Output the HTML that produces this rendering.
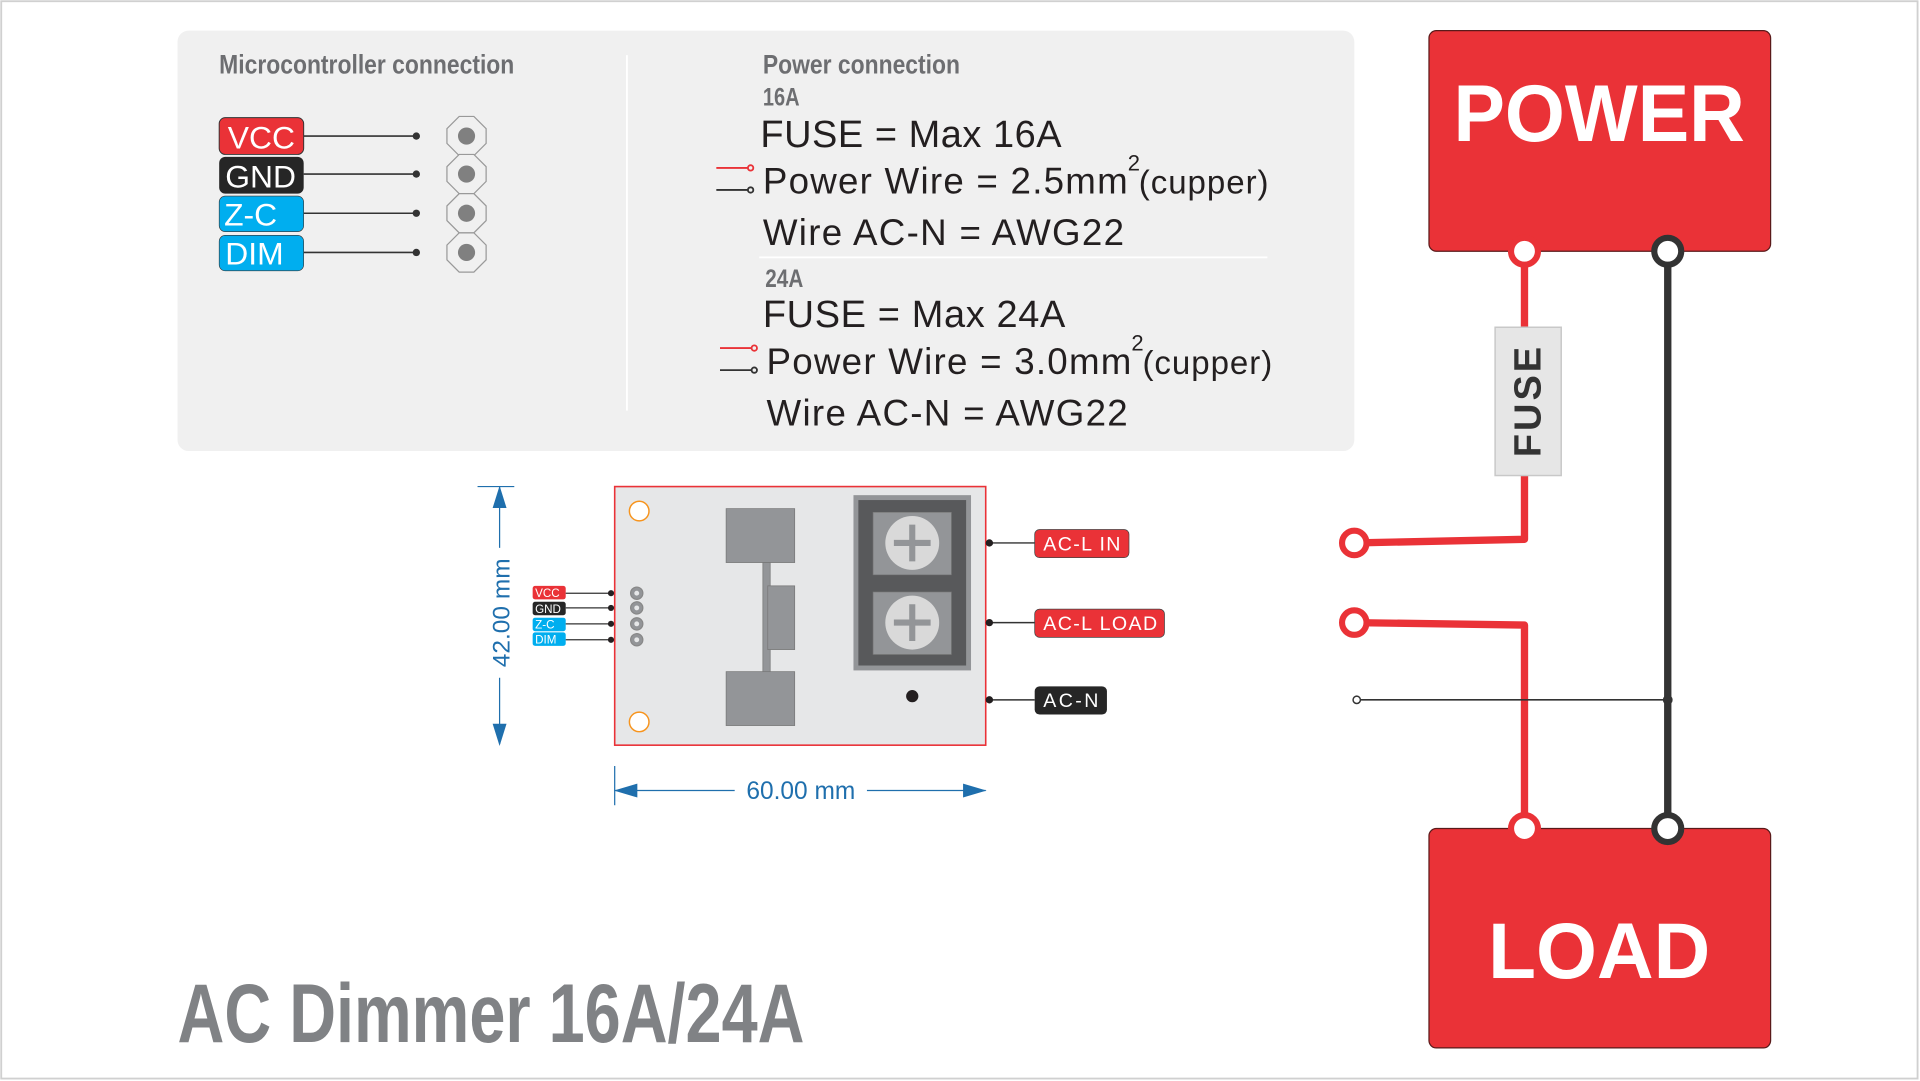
<!DOCTYPE html>
<html><head><meta charset="utf-8"><style>
html,body{margin:0;padding:0;background:#fff;}
svg{display:block}
.c{font-family:"Liberation Sans Narrow","Liberation Sans",sans-serif;font-weight:bold;fill:#6d6e71}
.t{font-family:"Liberation Sans",sans-serif;fill:#231f20}
.w{font-family:"Liberation Sans",sans-serif;fill:#fff}
</style></head><body>
<svg width="1920" height="1081" viewBox="0 0 1568 882" preserveAspectRatio="none">
<rect x="1" y="1" width="1565" height="879" fill="#fff" stroke="#d0d0d0" stroke-width="1.5"/>
<rect x="145" y="25" width="961" height="343" rx="9" fill="#f0f0f0"/>
<line x1="512" y1="45" x2="512" y2="335" stroke="#fff" stroke-width="1.5"/>
<text x="179" y="60" class="c" font-size="22" textLength="241" lengthAdjust="spacingAndGlyphs">Microcontroller connection</text>
<g font-size="26">
<rect x="179" y="96" width="69" height="30" rx="5" fill="#ea3237" stroke="#333" stroke-width="0.8"/>
<text x="186" y="121" class="w">VCC</text>
<rect x="179" y="128" width="69" height="30" rx="5" fill="#262626"/>
<text x="184" y="153" class="w">GND</text>
<rect x="179" y="160" width="69" height="29" rx="5" fill="#00aeef" stroke="#333" stroke-width="0.5"/>
<text x="183" y="184" class="w">Z-C</text>
<rect x="179" y="192" width="69" height="29" rx="5" fill="#00aeef" stroke="#333" stroke-width="0.5"/>
<text x="184" y="216" class="w">DIM</text>
</g>
<g stroke="#333" stroke-width="1.3">
<line x1="248" y1="111" x2="340" y2="111"/><line x1="248" y1="142" x2="340" y2="142"/>
<line x1="248" y1="174" x2="340" y2="174"/><line x1="248" y1="206" x2="340" y2="206"/>
</g>
<g fill="#333"><circle cx="340" cy="111" r="3"/><circle cx="340" cy="142" r="3"/><circle cx="340" cy="174" r="3"/><circle cx="340" cy="206" r="3"/></g>
<g fill="#f0f0f0" stroke="#999" stroke-width="1">
<polygon points="375,95 387,95 397,105 397,117 387,127 375,127 365,117 365,105"/>
<polygon points="375,126 387,126 397,136 397,148 387,158 375,158 365,148 365,136"/>
<polygon points="375,158 387,158 397,168 397,180 387,190 375,190 365,180 365,168"/>
<polygon points="375,190 387,190 397,200 397,212 387,222 375,222 365,212 365,200"/>
</g>
<g fill="#808080"><circle cx="381" cy="111" r="7"/><circle cx="381" cy="142" r="7"/><circle cx="381" cy="174" r="7"/><circle cx="381" cy="206" r="7"/></g>
<text x="623" y="60" class="c" font-size="22" textLength="161" lengthAdjust="spacingAndGlyphs">Power connection</text>
<text x="623" y="86" class="c" font-size="20" textLength="30" lengthAdjust="spacingAndGlyphs">16A</text>
<text x="621" y="120" class="t" font-size="31" textLength="246">FUSE = Max 16A</text>
<text x="623" y="158" class="t" font-size="30" textLength="298">Power Wire = 2.5mm</text>
<text x="921" y="139" class="t" font-size="18">2</text>
<text x="930" y="158" class="t" font-size="27" textLength="106">(cupper)</text>
<text x="623" y="200" class="t" font-size="30" textLength="295">Wire AC-N = AWG22</text>
<line x1="620" y1="210" x2="1035" y2="210" stroke="#fff" stroke-width="1.5"/>
<text x="625" y="234" class="c" font-size="20" textLength="31" lengthAdjust="spacingAndGlyphs">24A</text>
<text x="623" y="267" class="t" font-size="31" textLength="247">FUSE = Max 24A</text>
<text x="626" y="305" class="t" font-size="30" textLength="298">Power Wire = 3.0mm</text>
<text x="924" y="286" class="t" font-size="18">2</text>
<text x="933" y="305" class="t" font-size="27" textLength="106">(cupper)</text>
<text x="626" y="347" class="t" font-size="30" textLength="295">Wire AC-N = AWG22</text>
<g fill="none" stroke-width="1.5">
<line x1="585" y1="137" x2="611" y2="137" stroke="#ea3237"/><circle cx="613" cy="137" r="2.2" stroke="#ea3237"/>
<line x1="585" y1="155" x2="611" y2="155" stroke="#333"/><circle cx="613" cy="155" r="2.2" stroke="#333"/>
<line x1="588" y1="284" x2="614" y2="284" stroke="#ea3237"/><circle cx="616" cy="284" r="2.2" stroke="#ea3237"/>
<line x1="588" y1="302" x2="614" y2="302" stroke="#333"/><circle cx="616" cy="302" r="2.2" stroke="#333"/>
</g>
<rect x="1167" y="25" width="279" height="180" rx="6" fill="#ea3237" stroke="#5a1a1a" stroke-width="1"/>
<text x="1306" y="115" class="w" font-weight="bold" font-size="66" text-anchor="middle" textLength="238" lengthAdjust="spacingAndGlyphs">POWER</text>
<rect x="1167" y="676" width="279" height="179" rx="6" fill="#ea3237" stroke="#5a1a1a" stroke-width="1"/>
<text x="1306" y="798" class="w" font-weight="bold" font-size="64" text-anchor="middle">LOAD</text>
<g fill="none" stroke="#ea3237" stroke-width="6" stroke-linejoin="round">
<polyline points="1245,205 1245,267"/>
<polyline points="1245,388 1245,440 1106,443"/>
<polyline points="1106,508 1245,510 1245,676"/>
</g>
<line x1="1362" y1="205" x2="1362" y2="676" stroke="#333" stroke-width="6"/>
<line x1="1108" y1="571" x2="1362" y2="571" stroke="#333" stroke-width="1.3"/>
<circle cx="1108" cy="571" r="3" fill="#fff" stroke="#333" stroke-width="1.2"/>
<circle cx="1362" cy="571" r="4" fill="#333"/>
<rect x="1221" y="267" width="54" height="121" fill="#e6e6e6" stroke="#c8c8c8" stroke-width="1.2"/>
<text transform="translate(1258,328) rotate(-90)" font-family="Liberation Sans,sans-serif" font-weight="bold" font-size="31" fill="#333" text-anchor="middle" textLength="90">FUSE</text>
<g fill="#fff" stroke-width="5">
<circle cx="1245" cy="205" r="11" stroke="#ea3237"/><circle cx="1362" cy="205" r="11" stroke="#333"/>
<circle cx="1245" cy="676" r="11" stroke="#ea3237"/><circle cx="1362" cy="676" r="11" stroke="#333"/>
<circle cx="1106" cy="443" r="10" stroke="#ea3237"/><circle cx="1106" cy="508" r="10" stroke="#ea3237"/>
</g>
<rect x="502" y="397" width="303" height="211" fill="#e6e7e8" stroke="#ea3237" stroke-width="1.3"/>
<circle cx="522" cy="417" r="8" fill="#fff" stroke="#f7941d" stroke-width="1.2"/>
<circle cx="522" cy="589" r="8" fill="#fff" stroke="#f7941d" stroke-width="1.2"/>
<g fill="#939598" stroke="#777" stroke-width="0.6">
<rect x="593" y="415" width="56" height="44"/><rect x="593" y="548" width="56" height="44"/>
<rect x="623" y="459" width="6" height="89"/><rect x="627" y="478" width="22" height="52"/>
</g>
<rect x="697" y="404" width="96" height="143" fill="#939598"/>
<rect x="701" y="408" width="88" height="135" fill="#58595b"/>
<rect x="713" y="418" width="64" height="51" fill="#939598" stroke="#777" stroke-width="0.5"/>
<rect x="713" y="483" width="64" height="51" fill="#939598" stroke="#777" stroke-width="0.5"/>
<circle cx="745" cy="443" r="22" fill="#d9d9d9"/><circle cx="745" cy="508" r="22" fill="#d9d9d9"/>
<g stroke="#939598" stroke-width="5"><line x1="730" y1="443" x2="760" y2="443"/><line x1="745" y1="428" x2="745" y2="458"/>
<line x1="730" y1="508" x2="760" y2="508"/><line x1="745" y1="493" x2="745" y2="523"/></g>
<circle cx="745" cy="568" r="5" fill="#231f20"/>
<g stroke="#333" stroke-width="1.2"><line x1="808" y1="443" x2="845" y2="443"/><line x1="808" y1="508" x2="845" y2="508"/><line x1="808" y1="571" x2="845" y2="571"/></g>
<g fill="#231f20"><circle cx="808" cy="443" r="3"/><circle cx="808" cy="508" r="3"/><circle cx="808" cy="571" r="3"/></g>
<g font-size="16">
<rect x="845" y="432" width="77" height="23" rx="4" fill="#ea3237" stroke="#444" stroke-width="0.6"/><text x="852" y="449" class="w" textLength="63">AC-L IN</text>
<rect x="845" y="497" width="106" height="23" rx="4" fill="#ea3237" stroke="#444" stroke-width="0.6"/><text x="852" y="514" class="w" textLength="93">AC-L LOAD</text>
<rect x="845" y="560" width="59" height="23" rx="4" fill="#262626"/><text x="852" y="577" class="w" textLength="45">AC-N</text>
</g>
<g font-size="9.5">
<rect x="435" y="478" width="27" height="11" rx="2" fill="#ea3237"/><text x="437" y="487" class="w">VCC</text>
<rect x="435" y="491" width="27" height="11" rx="2" fill="#262626"/><text x="437" y="500" class="w">GND</text>
<rect x="435" y="504" width="27" height="11" rx="2" fill="#00aeef"/><text x="437" y="513" class="w">Z-C</text>
<rect x="435" y="516" width="27" height="11" rx="2" fill="#00aeef"/><text x="437" y="525" class="w">DIM</text>
</g>
<g stroke="#333" stroke-width="1"><line x1="462" y1="484" x2="499" y2="484"/><line x1="462" y1="496" x2="499" y2="496"/><line x1="462" y1="509" x2="499" y2="509"/><line x1="462" y1="522" x2="499" y2="522"/></g>
<g fill="#231f20"><circle cx="499" cy="484" r="2.5"/><circle cx="499" cy="496" r="2.5"/><circle cx="499" cy="509" r="2.5"/><circle cx="499" cy="522" r="2.5"/></g>
<g fill="#939598" stroke="#888" stroke-width="1"><circle cx="520" cy="484" r="5"/><circle cx="520" cy="496" r="5"/><circle cx="520" cy="509" r="5"/><circle cx="520" cy="522" r="5"/></g>
<g fill="#e6e7e8"><circle cx="520" cy="484" r="2"/><circle cx="520" cy="496" r="2"/><circle cx="520" cy="509" r="2"/><circle cx="520" cy="522" r="2"/></g>
<g stroke="#1f6fad" stroke-width="1" fill="#1f6fad">
<line x1="390" y1="397" x2="420" y2="397"/>
<line x1="408" y1="397" x2="408" y2="447"/><line x1="408" y1="553" x2="408" y2="607"/>
<polygon points="408,398 403,414 413,414"/><polygon points="408,607 403,591 413,591"/>
<line x1="502" y1="625" x2="502" y2="657"/>
<line x1="502" y1="645" x2="600" y2="645"/><line x1="708" y1="645" x2="805" y2="645"/>
<polygon points="503,645 520,640 520,650"/><polygon points="804,645 787,640 787,650"/>
</g>
<text transform="translate(416,500) rotate(-90)" font-family="Liberation Sans,sans-serif" font-size="20" fill="#1f6fad" text-anchor="middle">42.00 mm</text>
<text x="654" y="652" font-family="Liberation Sans,sans-serif" font-size="20" fill="#1f6fad" text-anchor="middle">60.00 mm</text>
<text x="145" y="850" font-family="Liberation Sans,sans-serif" font-weight="bold" font-size="68" fill="#808285" textLength="512" lengthAdjust="spacingAndGlyphs">AC Dimmer 16A/24A</text>
</svg>
</body></html>
